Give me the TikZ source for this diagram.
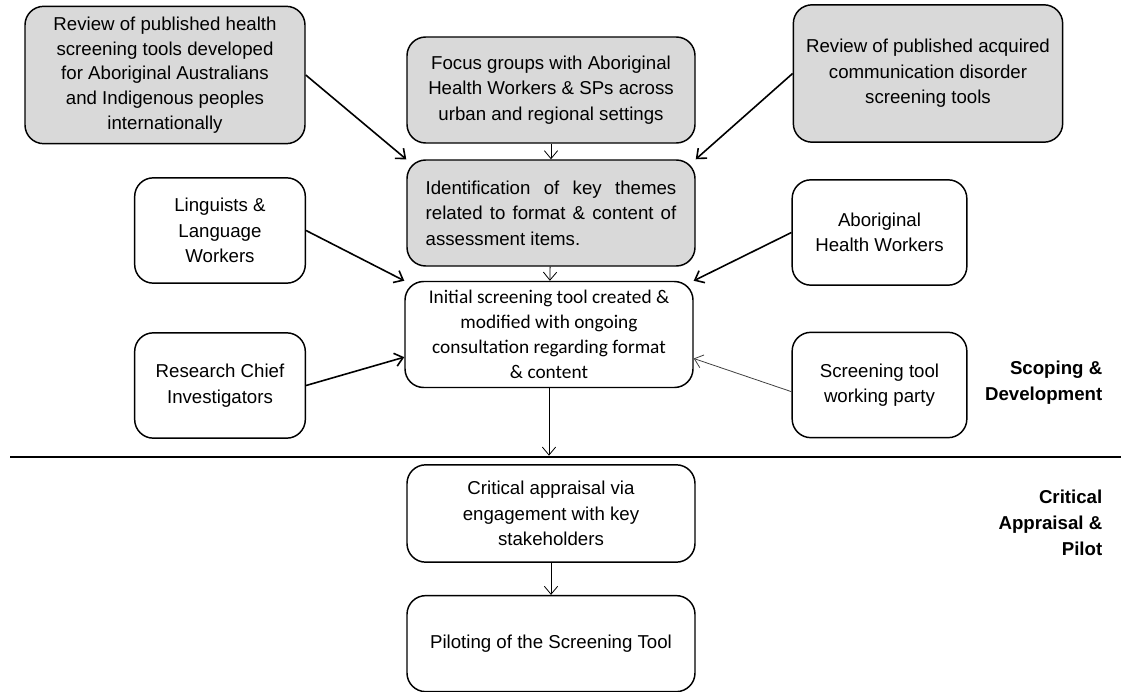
\documentclass[tikz,border=0pt]{standalone}
\usepackage{fontspec}
\setmainfont{Liberation Sans}
\newfontfamily\calibri{Carlito}
\usepackage{xcolor}
\usetikzlibrary{shapes,arrows.meta,positioning}
\definecolor{boxgrey}{HTML}{D9D9D9}

\begin{document}
\begin{tikzpicture}[
    x=0.75pt,y=-0.75pt,>={Straight Barb[length=6pt,width=10pt]},
  box/.style={draw,rounded corners=14pt,line width=1.1pt,align=center,inner sep=0pt,
    font=\fontsize{14}{19.2}\selectfont},
  greybox/.style={box,fill=boxgrey},
  wide/.style={minimum width=216pt,minimum height=79.5pt},
  side/.style={minimum width=128pt,minimum height=79pt},
  feed/.style={->,line width=1.2pt},
  flow/.style={->,line width=0.6pt},
  phase/.style={anchor=east,align=right,font=\fontsize{14}{19.5}\selectfont\bfseries},
]
  \useasboundingbox (0,0) rectangle (1121,692);

  % sources
  \node[greybox,minimum width=210pt,minimum height=103pt,font=\fontsize{14}{18.5}\selectfont] (rev1) at (165,75)
    {Review of published health\\screening tools developed\\for Aboriginal Australians\\and Indigenous peoples\\internationally};
  \node[greybox,wide] (focus) at (551,90)
    {Focus groups with Aboriginal\\Health Workers \& SPs across\\urban and regional settings};
  \node[greybox,minimum width=202pt,minimum height=103pt] (rev3) at (928,73.5)
    {Review of published acquired\\communication disorder\\screening tools};
  \node[greybox,wide,text width=188pt,align=justify] (ident) at (551,213)
    {Identification of key themes\linebreak related to format \& content of\linebreak assessment items.};

  % consultation
  \node[box,side] (ling) at (220,230.5) {Linguists \&\\Language\\Workers};
  \node[box,side,minimum width=131pt] (ahw) at (879.5,232.5) {Aboriginal\\Health Workers};
  \node[box,wide,font=\calibri\fontsize{14.5}{18.75}\selectfont] (initial) at (549,334.5)
    {Initial screening tool created \&\\modified with ongoing\\consultation regarding format\\\& content};
  \node[box,side] (rci) at (220,385.5) {Research Chief\\Investigators};
  \node[box,side,minimum width=131pt] (stw) at (879.5,385) {Screening tool\\working party};

  % pilot
  \node[box,wide,minimum height=73pt] (critical) at (551,513.5)
    {Critical appraisal via\\engagement with key\\stakeholders};
  \node[box,wide,minimum height=72pt] (pilot) [below=24pt of critical]
    {Piloting of the Screening Tool};

  % phases
  \coordinate (cutL) at (10,457);
  \coordinate (cutR) at (1121,457);
  \draw[line width=0.8pt] (cutL) -- (cutR);
  \node[phase] (scope) at (1107,383) {Scoping \&\\Development};
  \node[phase] (appr) at (1107,523) {Critical\\Appraisal \&\\Pilot};

  \draw[feed] (rev1.east) -- (ident.north west);
  \draw[flow] (focus) -- (ident);
  \draw[feed] (rev3.west) -- (ident.north east);
  \draw[feed] (ling.east) -- (initial.north west);
  \draw[flow] (ident) -- (initial);
  \draw[feed] (ahw.west) -- (initial.north east);
  \draw[feed] (rci.east) -- ([yshift=-17pt]initial.west);
  \draw[flow,black!75] ([yshift=-5pt]stw.west) -- ([yshift=-18pt]initial.east);
  \draw[flow] (initial) -- ([yshift=1pt]initial.south |- cutL);
  \draw[flow] (critical) -- (pilot);
\end{tikzpicture}
\end{document}
